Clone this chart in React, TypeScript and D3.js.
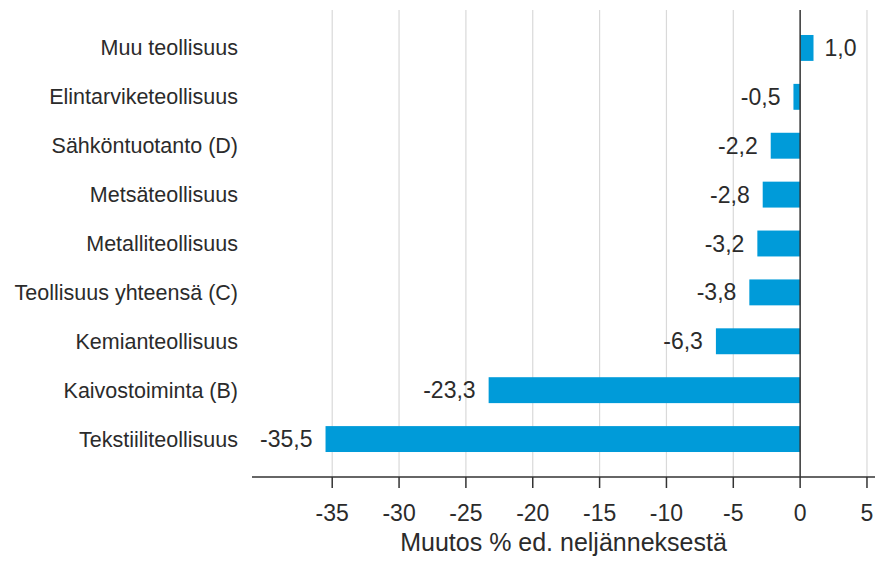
import { scaleLinear, scaleBand, formatLocale } from "d3";

const categories = [
  "Muu teollisuus",
  "Elintarviketeollisuus",
  "Sähköntuotanto (D)",
  "Metsäteollisuus",
  "Metalliteollisuus",
  "Teollisuus yhteensä (C)",
  "Kemianteollisuus",
  "Kaivostoiminta (B)",
  "Tekstiiliteollisuus",
];
const values = [1.0, -0.5, -2.2, -2.8, -3.2, -3.8, -6.3, -23.3, -35.5];
const xTicks = [-35, -30, -25, -20, -15, -10, -5, 0, 5];
const axisTitle = "Muutos % ed. neljänneksestä";

const W = 875;
const H = 571;
const plotTop = 10;
const plotBottom = 477;
const font = "'Liberation Sans', Arial, sans-serif";
const textColor = "#2b2b2b";

const fi = formatLocale({
  decimal: ",",
  thousands: " ",
  grouping: [3],
  currency: ["", "€"],
  minus: "-",
});
const fmtValue = fi.format(".1f");
const fmtTick = fi.format("d");

export default function App() {
  const x = scaleLinear().domain([-41, 5.6]).range([252, 875]);
  const y = scaleBand<string>()
    .domain(categories)
    .range([23.5, 463.5])
    .paddingInner(0.47)
    .paddingOuter(0.235);

  return (
    <svg
      width={W}
      height={H}
      style={{ position: "absolute", left: 0, top: 0, background: "#fff" }}
      fontFamily={font}
    >
      {/* grid */}
      {xTicks
        .filter((t) => t !== 0)
        .map((t) => (
          <line
            key={t}
            x1={x(t)}
            x2={x(t)}
            y1={plotTop}
            y2={plotBottom}
            stroke="#d9d9d9"
            strokeWidth={1.2}
          />
        ))}

      {/* bars */}
      {categories.map((c, i) => {
        const v = values[i];
        const y0 = y(c) as number;
        return (
          <rect
            key={c}
            x={Math.min(x(0), x(v))}
            y={y0}
            width={Math.abs(x(v) - x(0))}
            height={y.bandwidth()}
            fill="#009bd9"
          />
        );
      })}

      {/* zero line */}
      <line
        x1={x(0)}
        x2={x(0)}
        y1={plotTop}
        y2={plotBottom}
        stroke="#333"
        strokeWidth={1.5}
      />

      {/* category labels */}
      {categories.map((c) => (
        <text
          key={c}
          x={238}
          y={(y(c) as number) + y.bandwidth() / 2}
          dy="0.35em"
          textAnchor="end"
          fontSize={21.5}
          fill={textColor}
        >
          {c}
        </text>
      ))}

      {/* value labels */}
      {categories.map((c, i) => {
        const v = values[i];
        return (
          <text
            key={c}
            x={v >= 0 ? x(v) + 11 : x(v) - 13}
            y={(y(c) as number) + y.bandwidth() / 2}
            dy="0.35em"
            textAnchor={v >= 0 ? "start" : "end"}
            fontSize={23}
            fill={textColor}
          >
            {fmtValue(v)}
          </text>
        );
      })}

      {/* x axis */}
      <line
        x1={252}
        x2={W}
        y1={plotBottom}
        y2={plotBottom}
        stroke="#333"
        strokeWidth={1.5}
      />
      {xTicks.map((t) => (
        <g key={t} transform={`translate(${x(t)},${plotBottom})`}>
          <line y1={0} y2={11} stroke="#333" strokeWidth={1.5} />
          <text y={44} textAnchor="middle" fontSize={23} fill={textColor}>
            {fmtTick(t)}
          </text>
        </g>
      ))}
      <text
        x={(252 + W) / 2}
        y={551}
        textAnchor="middle"
        fontSize={25}
        fill={textColor}
      >
        {axisTitle}
      </text>
    </svg>
  );
}
